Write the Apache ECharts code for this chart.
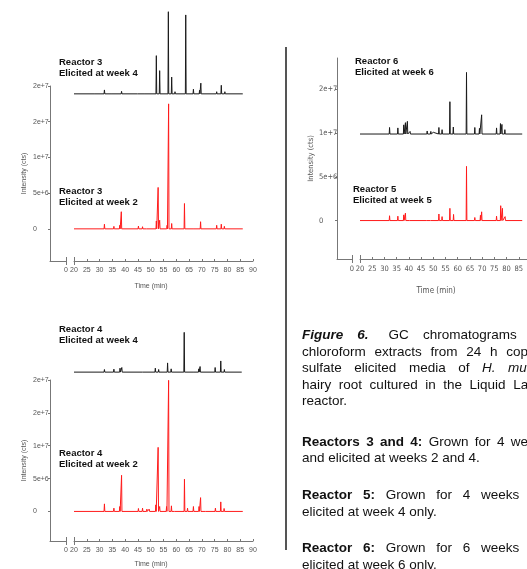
<!DOCTYPE html>
<html>
<head>
<meta charset="utf-8">
<script src="https://cdn.jsdelivr.net/npm/echarts@6/dist/echarts.min.js"></script>
<style>
  html, body { margin: 0; padding: 0; background: #fff; }
  body { width: 527px; height: 569px; overflow: hidden; position: relative; }
  #chart { position: absolute; left: 0; top: 0; width: 527px; height: 569px; }
  .cap { position: absolute; left: 302px; font: 13.5px "Liberation Sans", Arial, sans-serif; color: #111;
         white-space: nowrap; line-height: 16px; }
</style>
</head>
<body>
<div id="chart"></div>
<div class="cap" style="top:327px; word-spacing:10.3px"><b><i style="margin-right:6px">Figure 6.</i></b> GC chromatograms of</div>
<div class="cap" style="top:344px; word-spacing:5px">chloroform extracts from 24 h copper</div>
<div class="cap" style="top:360px; word-spacing:8.8px">sulfate elicited media of <i>H. muticus</i></div>
<div class="cap" style="top:377px; word-spacing:3.8px">hairy root cultured in the Liquid Lab Rotor</div>
<div class="cap" style="top:393px">reactor.</div>
<div class="cap" style="top:434px; word-spacing:2.6px"><b>Reactors 3 and 4:</b> Grown for 4 weeks</div>
<div class="cap" style="top:450px">and elicited at weeks 2 and 4.</div>
<div class="cap" style="top:487px; word-spacing:7px"><b>Reactor 5:</b> Grown for 4 weeks and</div>
<div class="cap" style="top:504px">elicited at week 4 only.</div>
<div class="cap" style="top:540px; word-spacing:7px"><b>Reactor 6:</b> Grown for 6 weeks and</div>
<div class="cap" style="top:557px">elicited at week 6 only.</div>

<script>
// tick labels as printed on the original (1.5e7 is shown rounded as 2e+7)
const yTicks = [0, 5e6, 1e7, 1.5e7, 2e7];
const yTickLabels = ['0', '5e+6', '1e+7', '2e+7', '2e+7'];
const yTicksR56 = [0, 5e6, 1e7, 1.5e7];

// peaks: [retention time (min), height above the trace baseline (cts)]
const r3w4Offset = 18.9e6;
const r3w4 = [[28, 0.15e6], [31.9, 0.55e6], [35, 0.2e6], [38.6, 0.35e6], [45, 0.1e6], [47.9, 0.15e6],
  [52.2, 5.35e6], [53.5, 3.25e6], [56.9, 11.5e6], [58.2, 2.35e6], [59.5, 0.3e6], [63.7, 11.05e6],
  [66.7, 0.65e6], [69.1, 0.5e6], [69.6, 1.5e6], [75.8, 0.3e6], [77.6, 1.2e6], [79, 0.3e6]];

const r3w2 = [[31.9, 0.65e6], [35.6, 0.35e6], [37.9, 0.5e6], [38.5, 2.4e6], [45.2, 0.4e6], [46.8, 0.3e6],
  [48.5, 0.15e6], [52.2, 1.1e6], [52.9, 5.8e6], [53.5, 1.2e6], [56.4, 0.5e6], [57.0, 17.5e6],
  [58.2, 0.75e6], [63.2, 3.55e6], [66.7, 0.2e6], [69.5, 1.0e6], [75.8, 0.5e6], [77.6, 0.65e6], [78.8, 0.35e6]];

const r6w6Offset = 9.9e6;
const r6w6 = [[32.1, 0.75e6], [35.5, 0.7e6], [37.9, 1.05e6], [38.6, 1.3e6], [39.4, 1.45e6], [40.5, 0.3e6],
  [47.5, 0.35e6], [49, 0.3e6], [50, 0.2e6], [52.3, 0.75e6], [53.6, 0.5e6], [56.8, 3.7e6], [58.2, 0.8e6],
  [60.3, 0.2e6], [63.6, 7.05e6], [67, 0.75e6], [68.9, 0.65e6], [69.8, 2.2e6], [75.9, 0.7e6],
  [77.5, 1.2e6], [78.1, 1.1e6], [79.3, 0.5e6]];

const r5w5 = [[32.1, 0.55e6], [35.5, 0.5e6], [37.9, 0.65e6], [38.6, 0.85e6], [40.5, 0.2e6], [47.5, 0.2e6],
  [49, 0.2e6], [52.3, 0.75e6], [53.6, 0.45e6], [56.8, 1.4e6], [58.3, 0.7e6], [63.6, 6.2e6], [67, 0.35e6],
  [69.3, 0.6e6], [69.8, 1.0e6], [75.9, 0.5e6], [77.6, 1.7e6], [78.3, 1.4e6], [79.4, 0.45e6]];

const r4w4Offset = 21.2e6;
const r4w4 = [[31.9, 0.4e6], [35.6, 0.45e6], [38.0, 0.6e6], [38.7, 0.7e6], [47, 0.15e6], [51.8, 0.6e6],
  [53.1, 0.4e6], [56.6, 1.4e6], [58.0, 0.5e6], [63.1, 6.05e6], [66.7, 0.3e6], [68.8, 0.5e6],
  [69.3, 0.85e6], [75.2, 0.7e6], [77.4, 1.7e6], [78.8, 0.4e6]];

const r4w2 = [[31.9, 1.15e6], [35.6, 0.5e6], [37.9, 0.75e6], [38.6, 5.5e6], [45.2, 0.45e6], [46.8, 0.5e6],
  [48.5, 0.35e6], [49.4, 0.35e6], [52.0, 1.0e6], [52.9, 9.75e6], [53.5, 0.75e6], [56.2, 0.75e6],
  [57.0, 19.95e6], [58.1, 0.85e6], [59.5, 0.3e6], [63.2, 4.9e6], [64.4, 0.5e6], [66.7, 0.75e6],
  [68.9, 0.75e6], [69.5, 2.1e6], [71.5, 0.2e6], [75.3, 0.5e6], [77.4, 1.45e6], [78.7, 0.45e6]];

const runStart = 20, runEnd = 86;

// each peak is drawn as a narrow spike on the trace baseline
function trace(peaks, offset, end) {
  const pts = [[runStart, offset]];
  peaks.forEach(([t, h]) => {
    pts.push([t - 0.15, offset], [t, offset + h], [t + 0.15, offset]);
  });
  pts.push([end, offset]);
  return pts;
}

const font = '"Liberation Sans", Arial, sans-serif';
const narrow = '"Liberation Sans Narrow", "DejaVu Sans Condensed", Arial, sans-serif';
const axisColor = '#777';
const labelColor = '#555';

// panels: stub grid (0 .. break) and main grid (20 .. 90 min)
const panels = [
  {stub: [50, 16], main: [74, 179], top: 86, height: 175, min: -4.5e6, max: 2e7, ticks: yTicks, margin: 17, ff: font, fs: 7},
  {stub: [337, 15], main: [360, 171], top: 58, height: 201, min: -4.4e6, max: 18.6e6, ticks: yTicksR56, margin: 18, ff: narrow, fs: 7.5},
  {stub: [50, 16], main: [74, 179], top: 380, height: 161, min: -4.5e6, max: 2e7, ticks: yTicks, margin: 17, ff: font, fs: 7}
];

const grid = [], xAxis = [], yAxis = [];
panels.forEach(p => {
  grid.push({left: p.stub[0], width: p.stub[1], top: p.top, height: p.height, outerBoundsMode: 'none'});
  grid.push({left: p.main[0], width: p.main[1], top: p.top, height: p.height, outerBoundsMode: 'none'});
  const g = grid.length - 2;
  const lbl = {fontSize: p.fs, color: labelColor, fontFamily: p.ff, margin: 6};
  xAxis.push({type: 'value', gridIndex: g, min: -1, max: 0,
    axisLine: {onZero: false, lineStyle: {color: axisColor}}, axisTick: {show: false}, splitLine: {show: false},
    axisLabel: Object.assign({customValues: [0]}, lbl)});
  xAxis.push({type: 'value', gridIndex: g + 1, min: 20, max: 90, interval: 5,
    axisLine: {onZero: false, lineStyle: {color: axisColor}}, axisTick: {inside: true, length: 2, lineStyle: {color: axisColor}},
    splitLine: {show: false}, axisLabel: lbl});
  yAxis.push({type: 'value', gridIndex: g, min: p.min, max: p.max,
    axisLine: {show: true, onZero: false, lineStyle: {color: axisColor}},
    axisTick: {show: true, length: 2, customValues: p.ticks, lineStyle: {color: axisColor}},
    splitLine: {show: false},
    axisLabel: {customValues: p.ticks, align: 'left', margin: p.margin, fontSize: p.fs, color: labelColor, fontFamily: p.ff,
      formatter: v => yTickLabels[yTicks.indexOf(v)]},
    name: 'Intensity (cts)', nameLocation: 'middle', nameGap: 22,
    nameTextStyle: {fontSize: p.fs, color: labelColor, fontFamily: p.ff}});
  yAxis.push({type: 'value', gridIndex: g + 1, min: p.min, max: p.max, show: false});
});

function line(idx, data, color) {
  return {type: 'line', xAxisIndex: idx, yAxisIndex: idx, data: data, symbol: 'none', clip: false,
    lineStyle: {width: 1, color: color}, color: color, silent: true};
}

const black = '#1a1a1a', red = '#ff1a1a';
const series = [
  line(1, trace(r3w4, r3w4Offset, runEnd), black),
  line(1, trace(r3w2, 0, runEnd), red),
  line(3, trace(r6w6, r6w6Offset, 86.4), black),
  line(3, trace(r5w5, 0, 86.4), red),
  line(5, trace(r4w4, r4w4Offset, 85.6), black),
  line(5, trace(r4w2, 0, runEnd), red)
];

function label(x, y, text) {
  return {type: 'text', x: x, y: y, style: {text: text, font: 'bold 9.5px ' + font, fill: '#111', lineHeight: 11, verticalAlign: 'top'}};
}
function title(x, y, text, ff, fs) {
  return {type: 'text', x: x, y: y, style: {text: text, font: fs + 'px ' + ff, fill: labelColor, align: 'center', verticalAlign: 'middle'}};
}
function brk(x, y) {
  return {type: 'line', shape: {x1: x, y1: y - 4, x2: x, y2: y + 4}, style: {stroke: axisColor, lineWidth: 1}};
}

const graphic = [
  {type: 'line', shape: {x1: 286, y1: 47, x2: 286, y2: 550}, style: {stroke: '#555', lineWidth: 2}},
  label(59, 57, 'Reactor 3\nElicited at week 4'),
  label(59, 186, 'Reactor 3\nElicited at week 2'),
  label(355, 56, 'Reactor 6\nElicited at week 6'),
  label(353, 184, 'Reactor 5\nElicited at week 5'),
  label(59, 324, 'Reactor 4\nElicited at week 4'),
  label(59, 448, 'Reactor 4\nElicited at week 2'),
  title(151, 286, 'Time (min)', font, 7),
  title(436, 291, 'Time (min)', narrow, 8),
  title(151, 564, 'Time (min)', font, 7),
  brk(66.5, 261), brk(74.5, 261),
  brk(352.5, 259), brk(360.5, 259),
  brk(66.5, 541), brk(74.5, 541)
];

const chart = echarts.init(document.getElementById('chart'));
chart.setOption({
  animation: false,
  grid: grid,
  xAxis: xAxis,
  yAxis: yAxis,
  series: series,
  graphic: graphic
});
</script>
</body>
</html>
